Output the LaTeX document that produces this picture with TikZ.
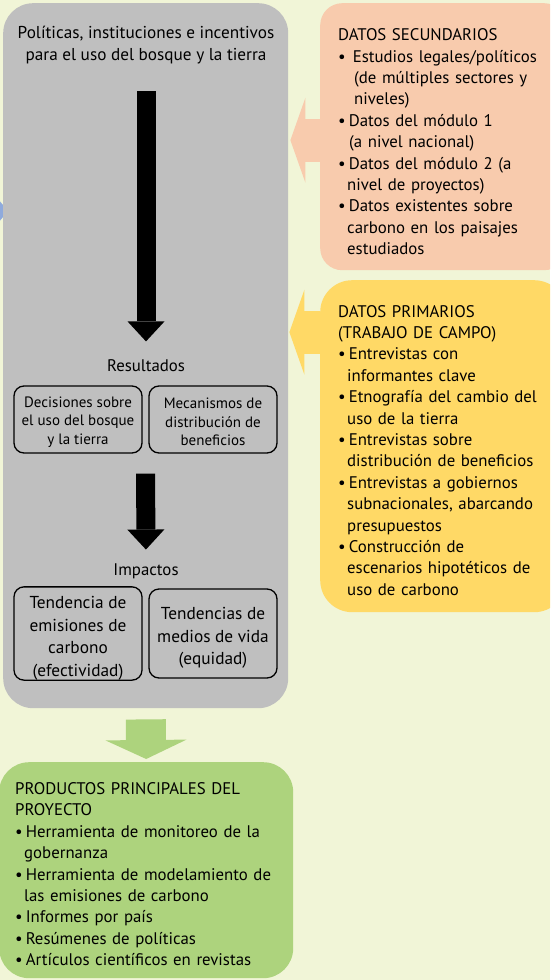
\documentclass[tikz,border=0pt]{standalone}
\usepackage{fontspec}
\setmainfont{PT Sans}
\usetikzlibrary{arrows.meta,calc,positioning}

\definecolor{fondo}{HTML}{F1F5D7}
\definecolor{gris}{HTML}{BFBFBF}
\definecolor{salmon}{HTML}{F8CBAD}
\definecolor{amarillo}{HTML}{FFD966}
\definecolor{verde}{HTML}{ADD37D}
\definecolor{azul}{HTML}{8FAADC}

\newcommand{\punto}{\textbullet\hspace{3pt}}
\newcommand{\sigue}{\hspace*{9pt}}

\begin{document}
\begin{tikzpicture}[x=1pt,y=-1pt,
  texto/.style={font=\fontsize{16.8}{21.4}\selectfont},
  caja/.style={draw, line width=1.3pt, rounded corners=10pt, minimum width=128pt, align=center, inner sep=0pt},
  datos/.style={texto, rounded corners=22pt, align=left, text width=210pt, inner xsep=18pt, inner ysep=0pt, anchor=north west},
  flecha/.style={line width=19pt, -{Triangle[width=37pt,length=20pt,line width=0pt]}},
  gruesa/.style={line width=43pt, -{Triangle[width=85pt,length=15pt,line width=0pt]}}
]
\useasboundingbox (0,0) rectangle (550,980);
\clip (0,0) rectangle (550,980);
\fill[fondo] (0,0) rectangle (550,980);
\fill[azul] (-2,199) -- (8,211) -- (-2,223) -- cycle;

\node[fill=gris, rounded corners=30pt, minimum width=285pt, minimum height=705pt, inner sep=0pt, anchor=north west] (marco) at (3,3) {};
\node[font=\fontsize{17.2}{22}\selectfont, align=center, inner sep=0pt, anchor=north] (titulo) at (146,26) {Políticas, instituciones e incentivos\\para el uso del bosque y la tierra};

\node[texto, inner sep=0pt, anchor=base] (resultados) at (146,371) {Resultados};
\node[caja, minimum height=67pt, font=\fontsize{15}{18.5}\selectfont] (decisiones) at (78,419.5) {\rule{0pt}{16pt}Decisiones sobre\\el uso del bosque\\y la tierra};
\node[caja, minimum height=67pt, font=\fontsize{15}{18.5}\selectfont] (mecanismos) at (213,419.5) {\rule{0pt}{16pt}Mecanismos de\\distribución de\\beneficios};

\node[texto, inner sep=0pt, anchor=base] (impactos) at (146,575) {Impactos};
\node[caja, minimum height=89pt, font=\fontsize{17.3}{22.5}\selectfont] (emisiones) at (78,633.5) {\rule{0pt}{22pt}Tendencia de\\emisiones de\\carbono\\(efectividad)};
\node[caja, minimum height=89pt, font=\fontsize{17.3}{22.5}\selectfont] (medios) at (213,633.5) {\rule{0pt}{21pt}Tendencias de\\medios de vida\\(equidad)};

\draw[flecha, shorten <=27pt, shorten >=17.5pt] (titulo.south) -- (resultados.north);
\draw[flecha, shorten <=20pt, shorten >=13.5pt] ($(decisiones.south)!0.5!(mecanismos.south)$) -- (impactos.north);

\node[datos, fill=salmon, minimum height=267pt] (secundarios) at (320,3) {\rule{0pt}{22pt}DATOS SECUNDARIOS\\
\punto\hspace{4pt}Estudios legales/políticos\\
\sigue\hspace{7pt}(de múltiples sectores y\\
\sigue\hspace{7pt}niveles)\\
\punto Datos del módulo 1\\
\sigue\hspace{2pt}(a nivel nacional)\\
\punto Datos del módulo 2 (a\\
\sigue nivel de proyectos)\\
\punto Datos existentes sobre\\
\sigue carbono en los paisajes\\
\sigue estudiados};

\node[datos, fill=amarillo, rounded corners=32pt, minimum height=332pt] (primarios) at (320,280) {\rule{0pt}{20pt}DATOS PRIMARIOS\\
(TRABAJO DE CAMPO)\\
\punto Entrevistas con\\
\sigue informantes clave\\
\punto Etnografía del cambio del\\
\sigue uso de la tierra\\
\punto Entrevistas sobre\\
\sigue distribución de beneficios\\
\punto Entrevistas a gobiernos\\
\sigue subnacionales, abarcando\\
\sigue presupuestos\\
\punto Construcción de\\
\sigue escenarios hipotéticos de\\
\sigue uso de carbono};

\node[datos, fill=verde, rounded corners=30pt, text width=262pt, inner xsep=16pt, minimum height=216pt] (productos) at (-1,762) {\rule{0pt}{20pt}PRODUCTOS PRINCIPALES DEL\\
PROYECTO\\
\punto Herramienta de monitoreo de la\\
\sigue gobernanza\\
\punto Herramienta de modelamiento de\\
\sigue las emisiones de carbono\\
\punto Informes por país\\
\punto Resúmenes de políticas\\
\punto Artículos científicos en revistas};

\draw[gruesa, salmon] ($(secundarios.west)+(0,3.5)$) -- ($(secundarios.west -| marco.east)+(2,3.5)$);
\draw[gruesa, amarillo] ($(primarios.west)+(0,-114)$) -- ($(primarios.west -| marco.east)+(1,-114)$);
\draw[verde, line width=40pt, -{Triangle[width=81pt,length=19pt,line width=0pt]}, shorten <=11pt, shorten >=3pt] (marco.south) -- (productos.north);
\end{tikzpicture}
\end{document}
